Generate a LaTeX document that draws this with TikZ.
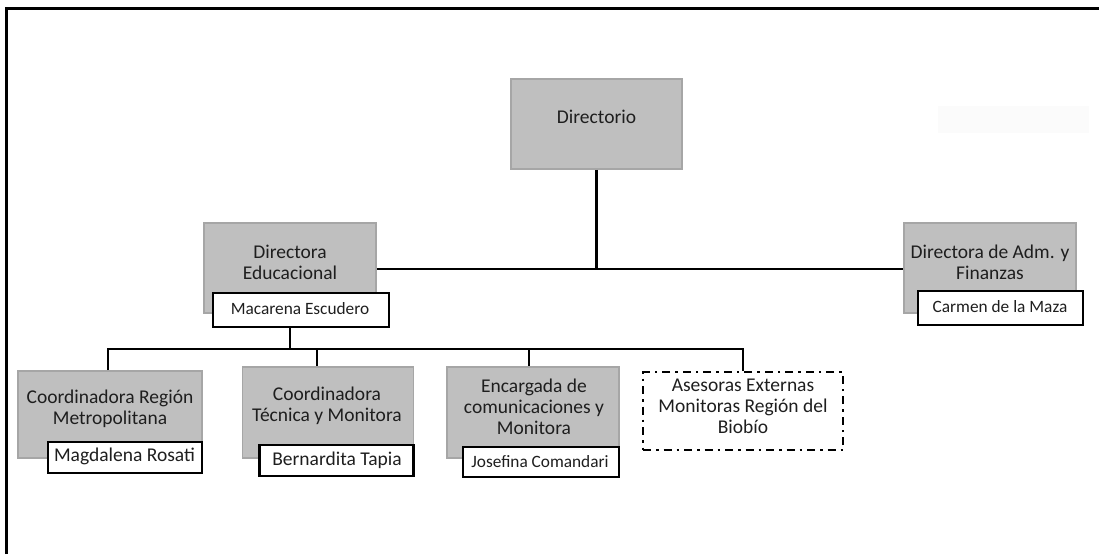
\documentclass[tikz,border=0pt]{standalone}
\usepackage{fontspec}
\setmainfont{Carlito}
\definecolor{boxfill}{HTML}{BFBFBF}
\definecolor{boxline}{HTML}{A6A6A6}
\definecolor{txt}{HTML}{1E1E1E}
\definecolor{faint}{HTML}{FBFBFB}
\begin{document}
\begin{tikzpicture}[x=1pt,y=-1pt,
  graybox/.style={draw=boxline,fill=boxfill,line width=1.8pt,inner sep=0pt},
  namebox/.style={draw=black,fill=white,line width=2.4pt,inner sep=0pt},
  dashbox/.style={draw=black,line width=2.4pt,dash pattern=on 8pt off 5pt on 2.5pt off 5pt,inner sep=0pt},
  bigtext/.style={text=txt,font=\fontsize{19.5}{21}\selectfont,align=center,inner sep=0pt},
  smalltext/.style={text=txt,font=\fontsize{17.3}{20}\selectfont,align=center,inner sep=0pt},
  conn/.style={draw=black,line width=2.8pt}]
\useasboundingbox (0,0) rectangle (1099,554);
% frame
\draw[line width=3pt] (6,554) -- (6,8) -- (1099,8);
% faint box
\fill[faint] (938,106) rectangle (1089,133);
% Directorio
\node[graybox,minimum width=171pt,minimum height=90pt] (dir) at (596.5,124) {};
\node[bigtext] (dirt) at (596.5,117) {Directorio};
% Directora Educacional
\node[graybox,minimum width=172pt,minimum height=90pt] (ded) at (290,268) {};
\node[bigtext] (dedt) at (290,262) {Directora\\Educacional};
\node[namebox,minimum width=176pt,minimum height=34pt] (mac) at (301,310) {};
\node[smalltext] (mact) at (300,309) {Macarena Escudero};
% Directora Adm
\node[graybox,minimum width=172pt,minimum height=90pt] (adm) at (990,268) {};
\node[bigtext] (admt) at (990,262) {Directora de Adm. y\\Finanzas};
\node[namebox,minimum width=165pt,minimum height=34pt] (car) at (1000.5,308) {};
\node[smalltext] (cart) at (1000,307) {Carmen de la Maza};
% bottom row
\node[graybox,minimum width=184pt,minimum height=87pt] (b1) at (110,414.5) {};
\node[bigtext] (b1t) at (110,409) {Coordinadora Región\\Metropolitana};
\node[namebox,minimum width=154pt,minimum height=31pt] (mag) at (125,457.5) {};
\node[bigtext] (magt) at (124.5,456) {Magdalena Rosati};

\node[graybox,minimum width=171pt,minimum height=91pt] (b2) at (328,412.5) {};
\node[bigtext] (b2t) at (327,406) {Coordinadora\\Técnica y Monitora};
\node[namebox,minimum width=154pt,minimum height=31pt] (ber) at (336.5,460.5) {};
\node[bigtext] (bert) at (337,460) {Bernardita Tapia};

\node[graybox,minimum width=172pt,minimum height=91pt] (b3) at (533,412.5) {};
\node[bigtext] (b3t) at (534,407) {Encargada de\\comunicaciones y\\Monitora};
\node[namebox,minimum width=156pt,minimum height=30pt] (jos) at (541,462) {};
\node[smalltext] (jost) at (540,462) {Josefina Comandari};

\node[dashbox,minimum width=200pt,minimum height=78pt] (b4) at (743,411) {};
\node[bigtext] (b4t) at (743,406) {Asesoras Externas\\Monitoras Región del\\Biobío};
% connectors
\coordinate (j1) at (596.5,269);
\coordinate (j2) at (290,349);
\draw[conn] (dir.south) -- (j1);
\draw[conn] (ded.east |- j1) -- (adm.west |- j1);
\draw[conn] (mac.south -| j2) -- (j2);
\coordinate (l1) at (108,349);
\coordinate (l4) at (743,349);
\draw[conn] (b1.north -| l1) -- (l1) -- (l4) -- (b4.north -| l4);
\coordinate (l2) at (317,349);
\coordinate (l3) at (529,349);
\draw[conn] (l2) -- (b2.north -| l2);
\draw[conn] (l3) -- (b3.north -| l3);
\end{tikzpicture}
\end{document}
